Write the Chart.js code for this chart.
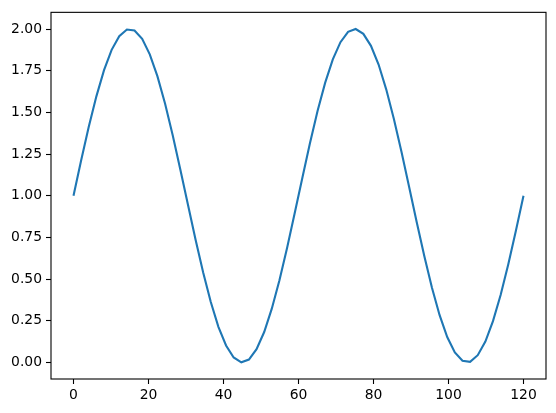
<!DOCTYPE html>
<html>
<head>
<meta charset="utf-8">
<script src="https://cdn.jsdelivr.net/npm/chart.js@4/dist/chart.umd.min.js"></script>
<style>
  html, body { margin: 0; padding: 0; background: #fff; }
  canvas { display: block; }
</style>
</head>
<body>
<canvas id="waveChart" width="556" height="413"></canvas>
<script>
const xValues = [0, 2.03, 4.07, 6.10, 8.14, 10.17, 12.20, 14.24, 16.27, 18.31,
    20.34, 22.37, 24.41, 26.44, 28.47, 30.51, 32.54, 34.58, 36.61, 38.64,
    40.68, 42.71, 44.75, 46.78, 48.81, 50.85, 52.88, 54.92, 56.95, 58.98,
    61.02, 63.05, 65.08, 67.12, 69.15, 71.19, 73.22, 75.25, 77.29, 79.32,
    81.36, 83.39, 85.42, 87.46, 89.49, 91.53, 93.56, 95.59, 97.63, 99.66,
    101.69, 103.73, 105.76, 107.80, 109.83, 111.86, 113.90, 115.93, 117.97, 120];
const yValues = [1.000, 1.211, 1.413, 1.596, 1.753, 1.875, 1.957, 1.997, 1.991, 1.941,
    1.848, 1.717, 1.553, 1.364, 1.159, 0.947, 0.737, 0.539, 0.362, 0.213,
    0.101, 0.029, 0.000, 0.017, 0.079, 0.182, 0.322, 0.492, 0.686, 0.894,
    1.106, 1.314, 1.508, 1.678, 1.818, 1.921, 1.983, 2.000, 1.971, 1.899,
    1.787, 1.638, 1.461, 1.263, 1.053, 0.841, 0.636, 0.447, 0.283, 0.152,
    0.059, 0.009, 0.003, 0.043, 0.125, 0.247, 0.404, 0.587, 0.789, 1.000];
const xTicks = [0, 20, 40, 60, 80, 100, 120];
const yTicks = [0, 0.25, 0.5, 0.75, 1, 1.25, 1.5, 1.75, 2];

const points = xValues.map((x, i) => ({ x: x, y: yValues[i] }));

// matplotlib-style box around the plot area
const frame = {
    id: 'frame',
    afterDraw(chart) {
        const a = chart.chartArea;
        const c = chart.ctx;
        c.save();
        c.strokeStyle = '#000';
        c.lineWidth = 1.1;
        c.strokeRect(a.left, a.top, a.right - a.left, a.bottom - a.top);
        c.restore();
    }
};

const tickFont = { family: 'DejaVu Sans', size: 13.9 };

new Chart(document.getElementById('waveChart'), {
    type: 'scatter',
    data: {
        datasets: [{
            data: points,
            showLine: true,
            borderColor: '#1f77b4',
            borderWidth: 2.1,
            pointRadius: 0,
            tension: 0,
            fill: false
        }]
    },
    plugins: [frame],
    options: {
        responsive: false,
        animation: false,
        devicePixelRatio: 1,
        layout: { padding: { top: 10, right: 10, left: 0, bottom: 0 } },
        plugins: {
            legend: { display: false },
            tooltip: { enabled: false }
        },
        scales: {
            x: {
                type: 'linear',
                min: -6,
                max: 126,
                afterBuildTicks: s => { s.ticks = xTicks.map(v => ({ value: v })); },
                afterFit: s => { s.height = 34; },
                ticks: {
                    color: '#000',
                    font: tickFont,
                    padding: 3,
                    maxRotation: 0,
                    callback: v => String(v)
                },
                grid: {
                    drawOnChartArea: false,
                    drawTicks: true,
                    tickLength: 5,
                    tickWidth: 1.1,
                    color: '#000'
                },
                border: { display: false }
            },
            y: {
                min: -0.1,
                max: 2.1,
                afterBuildTicks: s => { s.ticks = yTicks.map(v => ({ value: v })); },
                afterFit: s => { s.width = 51; },
                ticks: {
                    color: '#000',
                    font: tickFont,
                    padding: 4,
                    callback: v => Number(v).toFixed(2)
                },
                grid: {
                    drawOnChartArea: false,
                    drawTicks: true,
                    tickLength: 5,
                    tickWidth: 1.1,
                    color: '#000'
                },
                border: { display: false }
            }
        }
    }
});
</script>
</body>
</html>
